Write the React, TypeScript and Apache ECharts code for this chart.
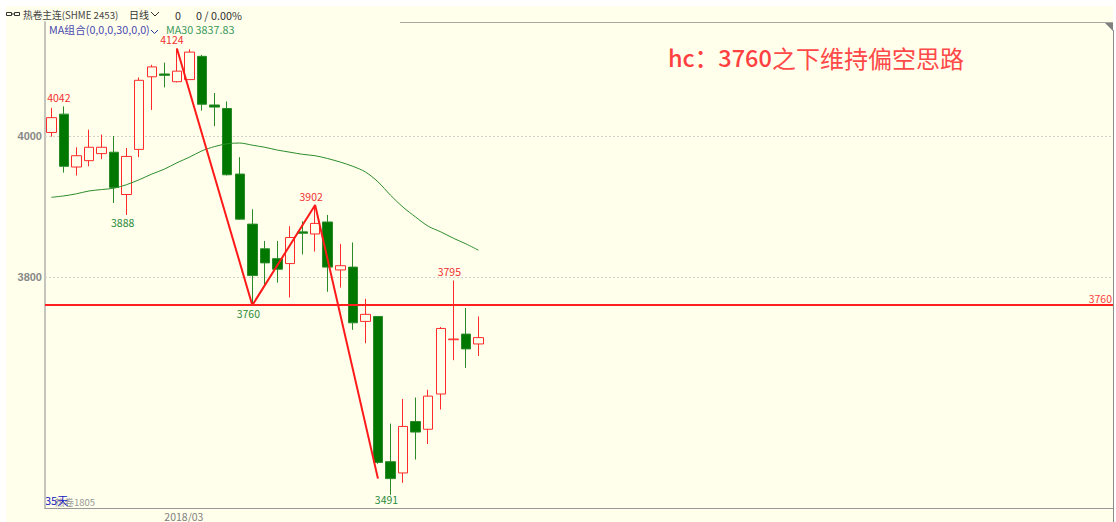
import React, { useEffect, useRef } from "react";
import * as echarts from "echarts";

const FONT = "'Noto Sans CJK SC', 'Liberation Sans', sans-serif";
const RED = "#ff2a2a";
const GREEN = "#007800";

// open, close, low, high
const opens = [4005,4031,3956,3965,3975,3977,3917,3981,4084,4088,4077,4080,4113,4044,4039,3946,3875,3840,3826,3819,3864,3861,3878,3810,3814,3737,3744,3538,3522,3595,3584,3634,3711,3719,3705];
const closes = [4026,3957,3972,3984,3984,3927,3971,4079,4098,4086,4092,4119,4045,4041,3945,3882,3802,3820,3811,3856,3862,3876,3814,3816,3735,3747,3537,3514,3588,3580,3631,3727,3712,3698,3714];
const lows = [3999,3948,3944,3957,3967,3905,3888,3970,4037,4069,4076,4080,4036,4014,3944,3881,3760,3786,3792,3771,3832,3836,3779,3785,3725,3706,3535,3491,3508,3541,3563,3612,3682,3671,3688];
const highs = [4040,4042,3984,4009,4002,4000,3983,4083,4101,4104,4124,4123,4115,4061,4049,3970,3896,3851,3851,3872,3879,3902,3888,3847,3849,3769,3744,3592,3627,3629,3640,3729,3795,3756,3744];
const ma30 = [3913,3915,3918,3922,3924,3926,3931,3938,3946,3953,3962,3970,3979,3985,3989,3990,3987,3984,3980,3977,3974,3972,3968,3963,3957,3949,3935,3916,3899,3885,3872,3864,3855,3847,3838];

const BLANK_SLOTS = 50;
const monthLabelIndex = 9;
const monthLabel = "2018/03";
const yTicks = [3800, 4000];
const supportLevel = 3760;

const zigzagIdx = [10, 16, 21, 26];
const zigzagVal = [4124, 3760, 3902, 3514];

const peakIdx = [1, 10, 21, 32];
const peakVal = [4042, 4124, 3902, 3795];
const troughIdx = [6, 16, 27];
const troughVal = [3888, 3760, 3491];

export default function App() {
  const ref = useRef<HTMLDivElement>(null);
  useEffect(() => {
    document.body.style.margin = "0";
    document.body.style.background = "#fff";
    const chart = echarts.init(ref.current!, undefined, { renderer: "svg" });
    const total = opens.length + BLANK_SLOTS;
    const categories = Array.from({ length: total }, (_, i) => (i === monthLabelIndex ? monthLabel : `d${i}`));
    const zigzag: (number | null)[] = Array(total).fill(null);
    zigzagIdx.forEach((x, i) => (zigzag[x] = zigzagVal[i]));
    const hdr = (text: string, x: number, y: number, fill: string, fontSize = 10, fontWeight = "normal") => ({
      type: "text", x, y, silent: true,
      style: { text, fill, fontSize, fontWeight, fontFamily: FONT, textVerticalAlign: "middle" },
    });
    chart.setOption({
      animation: false,
      backgroundColor: "#ffffff",
      grid: { left: 45, right: 3, top: 22, bottom: 14, containLabel: false },
      xAxis: {
        type: "category", data: categories, boundaryGap: true,
        axisLine: { lineStyle: { color: "#999999", width: 1 } },
        axisTick: { show: false },
        splitLine: { show: false },
        axisLabel: {
          interval: (i: number) => i === monthLabelIndex,
          formatter: (v: string) => (v === monthLabel ? v : ""),
          color: "#808080", fontSize: 10.5, lineHeight: 11, fontFamily: FONT, align: "left", margin: 3,
        },
      },
      yAxis: {
        type: "value", min: 3472.3, max: 4161.7, scale: true,
        axisLine: { show: true, lineStyle: { color: "#c4c4bc", width: 2 } },
        axisTick: { show: false },
        splitLine: { show: false },
        axisLabel: {
          customValues: yTicks, color: "#888888", fontSize: 11, fontWeight: "bold",
          fontFamily: "'Liberation Sans', sans-serif", margin: 3,
          formatter: (v: number) => String(v),
        },
      },
      graphic: [
        { type: "rect", z: -10, silent: true, shape: { x: 6, y: 6, width: 1107, height: 516 }, style: { fill: "#ffffec" } },
        { type: "line", z: -9, silent: true, shape: { x1: 400, y1: 22.5, x2: 1113, y2: 22.5 }, style: { stroke: "#a8a8a0", lineWidth: 1 } },
        { type: "line", z: -9, silent: true, shape: { x1: 1113.5, y1: 30, x2: 1113.5, y2: 522 }, style: { stroke: "#8c8c8c", lineWidth: 1 } },
        { type: "polygon", z: -9, silent: true, shape: { points: [[1105, 23], [1113, 23], [1113, 31]] }, style: { fill: "#808080" } },
        { type: "rect", silent: true, shape: { x: 6.5, y: 12.5, width: 5, height: 3 }, style: { fill: "none", stroke: "#333", lineWidth: 1 } },
        { type: "line", silent: true, shape: { x1: 11, y1: 14, x2: 14, y2: 14 }, style: { stroke: "#333", lineWidth: 1 } },
        { type: "rect", silent: true, shape: { x: 14.5, y: 12.5, width: 5, height: 3 }, style: { fill: "none", stroke: "#333", lineWidth: 1 } },
        hdr("热卷主连(SHME 2453)", 23, 14.5, "#444444", 9.7),
        hdr("日线", 129, 14.5, "#333333", 10),
        { type: "polyline", silent: true, shape: { points: [[151, 12], [155, 16], [159, 12]] }, style: { fill: "none", stroke: "#333", lineWidth: 1 } },
        hdr("0", 175, 15, "#333333", 10.75),
        hdr("0 / 0.00%", 196, 15, "#333333", 10.75),
        hdr("MA组合(0,0,0,30,0,0)", 49, 29.5, "#4a4ab0", 10.75),
        { type: "polyline", silent: true, shape: { points: [[151, 30], [154.5, 33.5], [158, 30]] }, style: { fill: "none", stroke: "#2040a0", lineWidth: 1 } },
        hdr("MA30 3837.83", 166, 29.5, "#3c9a5c", 10.75),
        hdr("hc：3760", 668, 57, "#ff4040", 23.5, "500"),
        hdr("之下维持偏空思路", 772, 57, "#ff4848", 24),
        hdr("热卷1805", 55, 502, "#999999", 9.5),
        hdr("35天", 45, 500, "#2020c0", 11),
      ],
      series: [
        {
          type: "candlestick", barWidth: 10, z: 2,
          data: opens.map((o, i) => [o, closes[i], lows[i], highs[i]]),
          itemStyle: { color: "#ffffec", color0: GREEN, borderColor: RED, borderColor0: "#2a8a2a", borderWidth: 1 },
          markLine: {
            silent: true, symbol: "none", z: 1,
            data: yTicks.map((v) => ({ yAxis: v, lineStyle: { color: "#d2d2ca", width: 1, type: [2, 2] }, label: { show: false } })),
            animation: false,
          },
          markPoint: {
            silent: true, symbol: "circle", symbolSize: 0,
            data: [
              ...peakIdx.map((x, i) => ({
                coord: [x, peakVal[i]], value: peakVal[i],
                label: { show: true, position: "top", offset: [x === 1 || x === 10 ? -5 : -4, 1], color: "#f03030", fontSize: 10.5, lineHeight: 10, fontFamily: FONT, formatter: String(peakVal[i]) },
              })),
              ...troughIdx.map((x, i) => ({
                coord: [x, troughVal[i]], value: troughVal[i],
                label: { show: true, position: "bottom", offset: [-4, x === 27 ? -5 : -2], color: "#2a8a3a", fontSize: 10.5, lineHeight: 10, fontFamily: FONT, formatter: String(troughVal[i]) },
              })),
            ],
          },
        },
        {
          type: "line", data: ma30, symbol: "none", smooth: 0.3, z: 3,
          lineStyle: { color: "#2c8c2c", width: 1 },
        },
        {
          type: "line", data: zigzag, connectNulls: true, symbol: "none", z: 4,
          lineStyle: { color: "#ff1a1a", width: 2 },
          markLine: {
            silent: true, symbol: "none", z: 5,
            data: [{ yAxis: supportLevel }],
            lineStyle: { color: "#ff2020", width: 2, type: "solid" },
            label: { show: true, position: "insideEndTop", formatter: String(supportLevel), color: "#ff4040", fontSize: 10.5, fontFamily: FONT, distance: 1 },
          },
        },
      ],
    });
    return () => chart.dispose();
  }, []);
  return <div ref={ref} style={{ width: 1116, height: 522, position: "absolute", left: 0, top: 0 }} />;
}
